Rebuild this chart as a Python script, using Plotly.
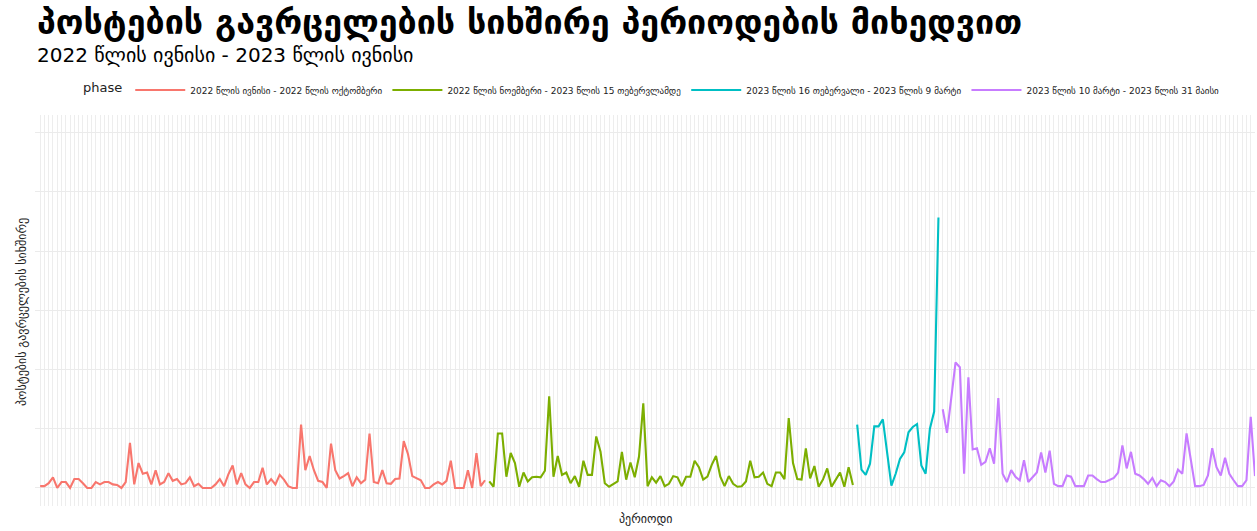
import plotly.graph_objects as go
import numpy as np

phase_names = [
    "2022 წლის ივნისი - 2022 წლის ოქტომბერი",
    "2022 წლის ნოემბერი - 2023 წლის 15 თებერვლამდე",
    "2023 წლის 16 თებერვალი - 2023 წლის 9 მარტი",
    "2023 წლის 10 მარტი - 2023 წლის 31 მაისი",
]
phase_colors = ["#F8766D", "#7CAE00", "#00BFC4", "#C77CFF"]

phase1 = [0.3, 0.3, 0.8, 1.8, 0.0, 1.0, 1.0, 0.0, 1.5, 1.5, 0.8, 0.0, 0.0, 1.0, 0.6, 1.0, 1.0, 0.6, 0.5, 0.0,
          1.0, 7.6, 0.6, 4.2, 2.4, 2.6, 0.6, 3.0, 0.6, 1.0, 2.5, 1.2, 1.5, 0.6, 0.8, 1.8, 0.3, 0.7, 0.0, 0.0,
          0.0, 0.6, 1.5, 0.3, 2.3, 3.8, 0.6, 2.5, 0.6, 0.0, 1.0, 1.0, 3.4, 0.6, 1.5, 0.6, 2.2, 1.4, 0.3, 0.0,
          0.0, 10.7, 3.0, 5.4, 3.0, 1.2, 1.0, 0.0, 7.5, 3.0, 1.6, 2.0, 2.5, 0.3, 1.8, 0.8, 1.4, 9.2, 1.0, 0.8,
          3.0, 0.8, 0.7, 1.5, 1.6, 7.9, 5.7, 2.0, 1.6, 1.3, 0.0, 0.0, 0.6, 1.0, 0.6, 1.2, 4.6, 0.0, 0.0, 0.0,
          3.0, 0.0, 5.9, 0.3, 1.3]
phase2 = [1.1, 0.2, 9.2, 9.2, 1.9, 5.9, 4.2, 0.2, 2.6, 1.1, 1.8, 1.9, 1.8, 2.9, 15.5, 1.9, 5.4, 2.2, 2.6, 0.8,
          2.0, 0.2, 4.6, 2.2, 2.2, 8.7, 6.1, 0.8, 0.2, 0.7, 1.1, 6.1, 1.4, 4.3, 1.8, 5.3, 14.3, 0.3, 1.8, 0.9,
          2.0, 0.3, 0.7, 2.0, 1.8, 0.3, 1.9, 1.9, 4.6, 3.5, 1.4, 1.9, 3.9, 5.4, 1.9, 0.3, 2.0, 0.7, 0.2, 0.3,
          1.1, 4.6, 1.8, 1.9, 2.6, 0.7, 0.3, 2.6, 2.6, 1.5, 11.8, 4.2, 1.5, 1.4, 6.7, 1.6, 3.7, 0.2, 1.4, 3.3,
          0.2, 1.4, 2.6, 0.2, 3.5, 0.5]
phase3 = [10.7, 3.1, 2.2, 4.1, 10.4, 10.4, 11.6, 6.1, 0.4, 2.4, 4.9, 6.0, 9.4, 10.3, 10.8, 3.8, 2.4, 10.0,
          12.9, 45.7]
phase4 = [13.3, 9.3, 15.2, 21.2, 20.4, 2.4, 18.7, 6.5, 6.7, 3.9, 4.4, 6.7, 4.1, 15.2, 2.4, 1.0, 3.0, 1.9, 1.3,
          4.7, 1.0, 1.9, 2.6, 6.0, 2.6, 6.3, 0.7, 0.3, 0.3, 2.1, 1.9, 0.3, 0.3, 0.3, 2.1, 2.1, 1.5, 1.0, 1.0,
          1.3, 1.7, 2.6, 7.2, 3.3, 6.1, 2.4, 2.1, 1.5, 0.7, 1.7, 0.3, 1.3, 1.0, 0.3, 1.1, 3.1, 2.4, 9.2, 4.9,
          0.3, 0.3, 0.5, 2.1, 6.7, 3.5, 2.1, 5.1, 2.4, 1.3, 0.3, 0.3, 1.3, 12.0, 2.0]

series = [phase1, phase2, phase3, phase4]

fig = go.Figure()
start = 0
for name, color, vals in zip(phase_names, phase_colors, series):
    x = np.arange(start, start + len(vals))
    fig.add_trace(go.Scatter(x=x, y=vals, mode="lines", name=name,
                             line=dict(color=color, width=2.1)))
    start += len(vals)
n_total = start

font_family = "DejaVu Sans"
plot_h = 391
fig.update_layout(
    width=1257, height=531,
    paper_bgcolor="white", plot_bgcolor="white",
    margin=dict(l=35, r=2, t=115, b=25, autoexpand=False),
    font=dict(family=font_family, color="#000000"),
    showlegend=True,
    legend=dict(orientation="h", x=0.5 + 8 / 1220, xanchor="center", y=1 + (115 - 90) / plot_h,
                yanchor="middle",
                title=dict(text="phase", font=dict(size=13, color="#222222")),
                font=dict(size=9, color="#222222"),
                itemwidth=50, tracegroupgap=0),
    xaxis=dict(range=[-1.2, n_total - 1], dtick=1, tick0=0, showticklabels=False,
               showgrid=True, gridcolor="#EDEDED", gridwidth=1, zeroline=False,
               showline=False, ticks=""),
    yaxis=dict(range=[-3.05, 63], dtick=10, tick0=0, showticklabels=False,
               showgrid=True, gridcolor="#EBEBEB", gridwidth=1, zeroline=False,
               showline=False, ticks=""),
    annotations=[
        dict(text="<b>პოსტების გავრცელების სიხშირე პერიოდების მიხედვით</b>", xref="paper", yref="paper",
             x=0, xanchor="left", y=1 + (115 - 22) / plot_h, yanchor="middle", showarrow=False,
             font=dict(size=34, color="#000000", family=font_family)),
        dict(text="2022 წლის ივნისი - 2023 წლის ივნისი", xref="paper", yref="paper",
             x=0, xanchor="left", y=1 + (115 - 55) / plot_h, yanchor="middle", showarrow=False,
             font=dict(size=20, color="#000000", family=font_family)),
        dict(text="პოსტების გავრცელების სიხშირე", xref="paper", yref="paper",
             x=-13 / 1220, xanchor="center", y=(506 - 312) / plot_h, yanchor="middle", showarrow=False,
             textangle=-90, font=dict(size=12, color="#222222", family=font_family)),
        dict(text="პერიოდი", xref="paper", yref="paper",
             x=0.5, xanchor="center", y=-(519 - 506) / plot_h, yanchor="middle", showarrow=False,
             font=dict(size=12, color="#222222", family=font_family)),
    ],
)

fig.write_html("out.html", config={"displayModeBar": False},
               post_script="document.body.style.margin='0';document.body.style.padding='0';")
